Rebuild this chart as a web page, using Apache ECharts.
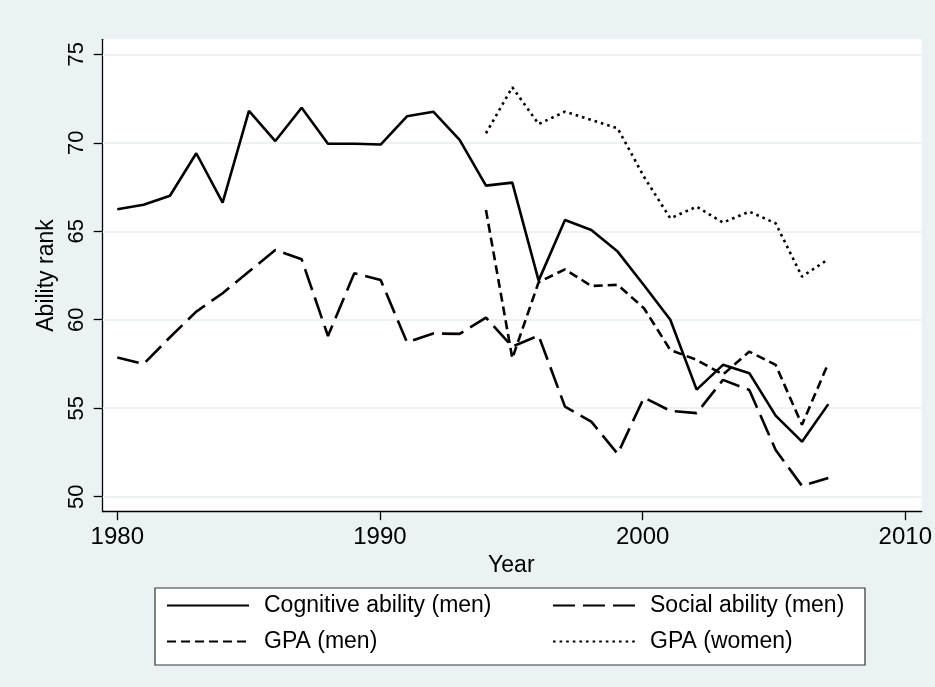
<!DOCTYPE html>
<html>
<head>
<meta charset="utf-8">
<script src="https://cdn.jsdelivr.net/npm/echarts@6/dist/echarts.min.js"></script>
<style>
html,body{margin:0;padding:0;background:#eaf2f3;}
#c{width:935px;height:687px;}
</style>
</head>
<body>
<div id="c"></div>
<script>
var years = [1980,1981,1982,1983,1984,1985,1986,1987,1988,1989,1990,1991,1992,1993,1994,1995,1996,1997,1998,1999,2000,2001,2002,2003,2004,2005,2006,2007];
var cognitiveMen = [66.24,66.50,67.01,69.41,66.62,71.81,70.10,71.98,69.95,69.95,69.90,71.50,71.76,70.16,67.58,67.75,62.21,65.64,65.07,63.85,61.95,60.00,56.05,57.45,56.98,54.58,53.11,55.23];
var socialMen = [57.86,57.50,59.01,60.46,61.50,62.72,63.94,63.42,59.08,62.63,62.25,58.73,59.22,59.20,60.12,58.48,59.10,55.09,54.24,52.42,55.60,54.85,54.72,56.60,56.03,52.64,50.61,51.05];
var gpaMen = [null,null,null,null,null,null,null,null,null,null,null,null,null,null,66.20,57.82,62.12,62.85,61.91,61.97,60.65,58.29,57.73,56.90,58.20,57.45,54.06,57.54];
var gpaWomen = [null,null,null,null,null,null,null,null,null,null,null,null,null,null,70.54,73.14,71.06,71.76,71.29,70.82,68.08,65.73,66.39,65.49,66.11,65.45,62.44,63.42];
var yTicks = [50,55,60,65,70,75];
var xTicks = [1980,1990,2000,2010];
var seriesNames = ['Cognitive ability (men)','Social ability (men)','GPA (men)','GPA (women)'];

function pairs(vals){ return years.map(function(y,i){ return [y, vals[i]]; }); }

var bg = '#eaf2f3';
var chart = echarts.init(document.getElementById('c'), null, {renderer:'canvas'});
var font = 'Liberation Sans, Arial, sans-serif';
var lw = 2.6;

var yMin = yTicks[0], yMax = yTicks[yTicks.length-1];
var xMin = xTicks[0], xMax = xTicks[xTicks.length-1];

var legendCommon = {
  orient:'vertical', top:592, padding:0,
  itemWidth:82, itemHeight:14, itemGap:9,
  itemStyle:{color:'rgba(0,0,0,0)', borderColor:'rgba(0,0,0,0)', borderWidth:0, opacity:0},
  textStyle:{fontSize:23, lineHeight:27, color:'#000', fontFamily:font, padding:[0,0,0,10]}
};

var option = {
  backgroundColor: bg,
  animation: false,
  textStyle: {fontFamily: font, color:'#000'},
  grid: [
    {left: 102.7, right: 13.3, top: 39.3, bottom: 175.3, show: true, backgroundColor: '#fff', borderWidth: 0},
    {left: 117.3, right: 27.7, top: 54.3, bottom: 190.3, show: false}
  ],
  xAxis: [
    {type:'value', gridIndex:0, min: xMin-0.554, max: xMax+0.546,
     axisLine:{show:true, onZero:false, lineStyle:{color:'#000', width:1.3}},
     axisTick:{show:false}, axisLabel:{show:false}, splitLine:{show:false}},
    {type:'value', gridIndex:1, min: xMin, max: xMax, interval:10, offset:15,
     axisLine:{show:false, onZero:false},
     axisTick:{show:true, length:8.5, lineStyle:{color:'#000', width:1.3}},
     axisLabel:{show:true, fontSize:24, color:'#000', margin:14, fontFamily:font,
       formatter:function(v){ return String(v); }},
     splitLine:{show:false},
     name:'Year', nameLocation:'middle', nameGap:40,
     nameTextStyle:{fontSize:23, color:'#000', fontFamily:font}}
  ],
  yAxis: [
    {type:'value', gridIndex:0, min: yMin-0.85, max: yMax+0.85,
     axisLine:{show:true, onZero:false, lineStyle:{color:'#000', width:1.3}},
     axisTick:{show:false}, axisLabel:{show:false}, splitLine:{show:false}},
    {type:'value', gridIndex:1, min: yMin, max: yMax, interval:5, offset:14.6,
     axisLine:{show:false, onZero:false},
     axisTick:{show:true, length:9, lineStyle:{color:'#000', width:1.3}},
     axisLabel:{show:true, rotate:90, fontSize:22, color:'#000', margin:15, fontFamily:font},
     splitLine:{show:false},
     name:'Ability rank', nameLocation:'middle', nameGap:39,
     nameTextStyle:{fontSize:23, color:'#000', fontFamily:font}}
  ],
  legend: [
    Object.assign({data:[seriesNames[0], seriesNames[2]], left:166}, legendCommon),
    Object.assign({data:[seriesNames[1], seriesNames[3]], left:552}, legendCommon)
  ],
  graphic: [
    {type:'rect', z:-1, shape:{x:155, y:588, width:710, height:77},
     style:{fill:'#fff', stroke:'#333', lineWidth:1.2}}
  ],
  series: [
    {name:'_grid', type:'line', xAxisIndex:0, yAxisIndex:0, data: pairs(cognitiveMen),
     showSymbol:false, symbol:'none', lineStyle:{opacity:0}, silent:true, z:1,
     markLine:{silent:true, symbol:['none','none'], z:1, label:{show:false},
       lineStyle:{color:bg, width:2.2, type:'solid'},
       data: yTicks.map(function(v){ return {yAxis:v}; })}},
    {name:seriesNames[0], type:'line', xAxisIndex:0, yAxisIndex:0, data:pairs(cognitiveMen),
     symbol:'none', color:'#000', lineStyle:{color:'#000', width:lw, type:'solid'}, z:3},
    {name:seriesNames[1], type:'line', xAxisIndex:0, yAxisIndex:0, data:pairs(socialMen),
     symbol:'none', color:'#000', lineStyle:{color:'#000', width:lw, type:[22,8]}, z:3},
    {name:seriesNames[2], type:'line', xAxisIndex:0, yAxisIndex:0, data:pairs(gpaMen),
     symbol:'none', color:'#000', lineStyle:{color:'#000', width:lw, type:[9,5]}, z:3},
    {name:seriesNames[3], type:'line', xAxisIndex:0, yAxisIndex:0, data:pairs(gpaWomen),
     symbol:'none', color:'#000', lineStyle:{color:'#000', width:lw, type:[2.6,4]}, z:3}
  ]
};
chart.setOption(option);
</script>
</body>
</html>
